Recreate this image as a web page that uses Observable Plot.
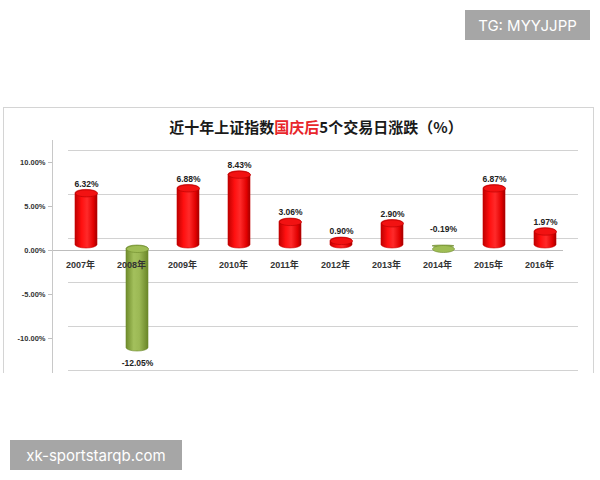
<!DOCTYPE html>
<html><head><meta charset="utf-8">
<script src="https://cdn.jsdelivr.net/npm/d3@7"></script>
<script src="https://cdn.jsdelivr.net/npm/@observablehq/plot@0.6"></script>
<style>
body{margin:0;width:600px;height:480px;background:#fff;position:relative;overflow:hidden;font-family:"Liberation Sans","Noto Sans CJK SC",sans-serif;}
#panel{position:absolute;left:3px;top:107px;width:591px;height:266px;border:1px solid #d4d4d4;border-bottom:none;box-sizing:border-box;}
#title{position:absolute;left:0;width:600px;top:117px;text-align:center;font:700 15px "Noto Sans CJK SC",sans-serif;color:#1a1a1a;padding-left:32px;box-sizing:border-box;line-height:20px;}
#chart{position:absolute;left:0;top:140px;}
.wm{position:absolute;background:#a6a6a6;color:#fff;font:15px "Inter",sans-serif;display:flex;align-items:center;justify-content:center;}
</style></head>
<body>
<div id="panel"></div>
<div id="title">近十年上证指数<span style="color:#e8262b">国庆后</span>5个交易日涨跌（%）</div>
<div id="chart"></div>
<div class="wm" style="left:465px;top:10px;width:125px;height:30px">TG: MYYJJPP</div>
<div class="wm" style="left:10px;top:440px;width:172px;height:30px">xk-sportstarqb.com</div>
<script>
const years = ["2007年","2008年","2009年","2010年","2011年","2012年","2013年","2014年","2015年","2016年"];
const values = [6.32, -12.05, 6.88, 8.43, 3.06, 0.90, 2.90, -0.19, 6.87, 1.97];
const gridTicks = [-15, -10, -5, 0, 5, 10];
const labelTicks = [-10, -5, 0, 5, 10];

const data = years.map((year, i) => ({year, value: values[i]}));
const fmt = v => v.toFixed(2) + "%";

const ellipseSym = {draw(ctx) {
  const a = 11, b = 3.5, k = 0.5523;
  ctx.moveTo(a, 0);
  ctx.bezierCurveTo(a, b * k, a * k, b, 0, b);
  ctx.bezierCurveTo(-a * k, b, -a, b * k, -a, 0);
  ctx.bezierCurveTo(-a, -b * k, -a * k, -b, 0, -b);
  ctx.bezierCurveTo(a * k, -b, a, -b * k, a, 0);
  ctx.closePath();
}};

const pos = data.filter(d => d.value >= 0);
const neg = data.filter(d => d.value < 0);

const chart = Plot.plot({
  width: 600, height: 232,
  marginLeft: 52, marginRight: 20, marginTop: 0, marginBottom: 0,
  style: {background: "transparent", fontFamily: "Liberation Sans, Noto Sans CJK SC, sans-serif", overflow: "visible"},
  x: {domain: years, range: [59.5, 570.5], paddingInner: 0.57, paddingOuter: 0.285, axis: null},
  y: {domain: [-15, 10], range: [242, 22], axis: null},
  marks: [
    Plot.ruleY(gridTicks, {stroke: "#d2d2d2", insetLeft: 16, insetRight: 2, dy: -12}),
    Plot.ruleY([0], {stroke: "#bdbdbd", insetRight: 17}),
    Plot.frame({anchor: "left", stroke: "#c8c8c8"}),
    Plot.axisY({ticks: labelTicks, tickFormat: fmt, tickSize: 4, tickPadding: 3, fontSize: 7.5, fontWeight: "bold", stroke: "#c0c0c0", fill: "#333", label: null}),
    Plot.barY(pos, {x: "year", y: "value", fill: "url(#gradRed)", stroke: "#c80000", strokeWidth: 0.6, rx: 11, ry: 3.5, dy: -5, insetBottom: -3}),
    Plot.barY(neg, {x: "year", y: "value", fill: "url(#gradGreen)", stroke: "#6d8a2c", strokeWidth: 0.6, rx: 11, ry: 3.5, dy: -5}),
    Plot.dot(pos, {x: "year", y: "value", symbol: ellipseSym, fill: "#f21212", stroke: "#b40000", strokeWidth: 0.6, dy: -1.5}),
    Plot.dot(neg, {x: "year", y: () => 0, symbol: ellipseSym, fill: "#9fbd55", stroke: "#6d8a2c", strokeWidth: 0.6, dy: -1.5}),
    Plot.text(pos, {x: "year", y: "value", text: d => fmt(d.value), dy: -11, fontSize: 8.5, fontWeight: "bold", fill: "#222"}),
    Plot.text(neg.filter(d => d.value < -1), {x: "year", y: "value", text: d => fmt(d.value), dy: 7, fontSize: 8.5, fontWeight: "bold", fill: "#222"}),
    Plot.text(neg.filter(d => d.value >= -1), {x: "year", y: "value", text: d => fmt(d.value), dy: -23, fontSize: 8.5, fontWeight: "bold", fill: "#222"}),
    Plot.text(data, {x: "year", y: () => 0, text: "year", dy: 15, dx: -6, fontSize: 9, fontWeight: "bold", fill: "#333"})
  ]
});

const defs = d3.select(chart).insert("defs", ":first-child");
function grad(id, stops) {
  const g = defs.append("linearGradient").attr("id", id).attr("x1", 0).attr("x2", 1).attr("y1", 0).attr("y2", 0);
  stops.forEach(([o, c]) => g.append("stop").attr("offset", o).attr("stop-color", c));
}
grad("gradRed", [[0, "#c00000"], [0.3, "#ff1010"], [0.55, "#ff2a2a"], [0.85, "#e00000"], [1, "#a00000"]]);
grad("gradGreen", [[0, "#6f8c2b"], [0.35, "#a3c05c"], [0.6, "#9cb955"], [1, "#6a8628"]]);

document.getElementById("chart").appendChild(chart);
</script>
</body></html>
